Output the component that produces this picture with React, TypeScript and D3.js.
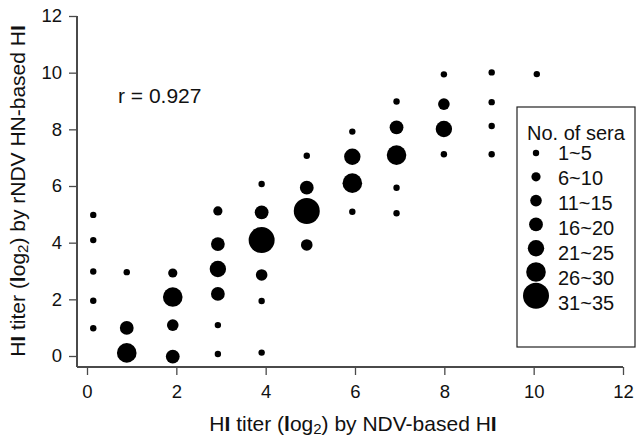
import React, { useEffect, useRef } from 'react';
import * as d3 from 'd3';

// HI titers (log2), one entry per plotted bubble
const ndvTiter = [
  0.14, 0.14, 0.14, 0.14, 0.14,
  0.89, 0.89, 0.89,
  1.92, 1.92, 1.92, 1.92,
  2.93, 2.93, 2.93, 2.93, 2.93, 2.93,
  3.91, 3.91, 3.91, 3.91, 3.91, 3.91,
  4.92, 4.92, 4.92, 4.92,
  5.94, 5.94, 5.94, 5.94,
  6.93, 6.93, 6.93, 6.93, 6.93,
  7.99, 7.99, 7.99, 7.99,
  9.06, 9.06, 9.06, 9.06,
  10.07,
];
const rndvTiter = [
  4.98, 4.09, 2.98, 1.95, 0.98,
  2.96, 0.99, 0.11,
  2.93, 2.08, 1.09, -0.02,
  5.12, 3.95, 3.07, 2.19, 1.09, 0.07,
  6.07, 5.07, 4.09, 2.86, 1.94, 0.12,
  7.07, 5.94, 5.12, 3.92,
  7.92, 7.03, 6.10, 5.09,
  8.98, 8.07, 7.09, 5.94, 5.04,
  9.94, 8.89, 8.01, 7.12,
  10.01, 8.96, 8.12, 7.12,
  9.95,
];
// index into seraLabels
const seraClass = [
  0, 0, 0, 0, 0,
  0, 3, 5,
  1, 5, 2, 3,
  1, 3, 4, 3, 0, 0,
  0, 3, 6, 2, 0, 0,
  0, 3, 6, 2,
  0, 4, 5, 0,
  0, 3, 5, 0, 0,
  0, 2, 4, 0,
  0, 0, 0, 0,
  0,
];
const seraLabels = ['1~5', '6~10', '11~15', '16~20', '21~25', '26~30', '31~35'];
const axisTicks = [0, 2, 4, 6, 8, 10, 12];
const rText = 'r = 0.927';

const FONT = '"Liberation Sans", Arial, Helvetica, sans-serif';

export default function App() {
  const svgRef = useRef<SVGSVGElement>(null);

  useEffect(() => {
    if (!svgRef.current) return;
    const width = 640;
    const height = 437;

    const svg = d3.select(svgRef.current);
    svg.selectAll('*').remove();
    svg.attr('width', width).attr('height', height).style('font-family', FONT);

    const x = d3.scaleLinear().domain([0, 12]).range([87, 623]);
    const y = d3.scaleLinear().domain([0, 12]).range([356, 16]);
    const radius = d3.scaleOrdinal<number, number>()
      .domain(d3.range(seraLabels.length))
      .range([3.2, 4.6, 5.8, 6.9, 8.2, 9.8, 13]);

    const axisX = y(0) + 11; // y position of the x axis line
    const axisY = x(0) - 10; // x position of the y axis line
    const axisColor = '#4a4a4a';

    // x axis
    const gx = svg.append('g').attr('transform', `translate(0,${axisX})`)
      .call(d3.axisBottom(x).tickValues(axisTicks).tickSize(8).tickPadding(10).tickSizeOuter(0));
    gx.select('.domain').remove();
    gx.selectAll('line').attr('stroke', axisColor).attr('stroke-width', 1.3);
    gx.selectAll('text').attr('font-size', 18.5).attr('fill', '#111').style('font-family', FONT);
    svg.append('line')
      .attr('x1', axisY).attr('x2', x(12))
      .attr('y1', axisX).attr('y2', axisX)
      .attr('stroke', axisColor).attr('stroke-width', 2);

    // y axis
    const gy = svg.append('g').attr('transform', `translate(${axisY},0)`)
      .call(d3.axisLeft(y).tickValues(axisTicks).tickSize(8).tickPadding(7).tickSizeOuter(0));
    gy.select('.domain').remove();
    gy.selectAll('line').attr('stroke', axisColor).attr('stroke-width', 1.3);
    gy.selectAll('text').attr('font-size', 18.5).attr('fill', '#111').style('font-family', FONT);
    svg.append('line')
      .attr('x1', axisY).attr('x2', axisY)
      .attr('y1', y(12)).attr('y2', axisX)
      .attr('stroke', axisColor).attr('stroke-width', 2);

    // bubbles
    svg.append('g')
      .selectAll('circle')
      .data(d3.range(ndvTiter.length))
      .enter()
      .append('circle')
      .attr('cx', i => x(ndvTiter[i]))
      .attr('cy', i => y(rndvTiter[i]))
      .attr('r', i => radius(seraClass[i]))
      .attr('fill', '#000');

    // correlation text
    svg.append('text')
      .attr('x', 118).attr('y', 103)
      .attr('font-size', 21)
      .attr('fill', '#111')
      .text(rText);

    // axis titles
    const title = (g: d3.Selection<SVGTextElement, unknown, null, undefined>, tail: string) => {
      g.append('tspan').text('H');
      g.append('tspan').attr('font-weight', 'bold').text('I');
      g.append('tspan').text(' titer (');
      g.append('tspan').attr('font-weight', 'bold').text('l');
      g.append('tspan').text('og');
      g.append('tspan').attr('font-size', 15).attr('dy', 2.5).text('2');
      g.append('tspan').attr('dy', -2.5).text(`) by ${tail}H`);
      g.append('tspan').attr('font-weight', 'bold').text('I');
    };

    const xt = svg.append('text')
      .attr('x', 353).attr('y', 431)
      .attr('text-anchor', 'middle')
      .attr('font-size', 21)
      .attr('fill', '#111');
    title(xt, 'NDV-based ');

    const yt = svg.append('text')
      .attr('transform', `translate(25,191) rotate(-90)`)
      .attr('text-anchor', 'middle')
      .attr('font-size', 21)
      .attr('fill', '#111');
    title(yt, 'rNDV HN-based ');

    // legend
    const lg = svg.append('g');
    lg.append('rect')
      .attr('x', 517).attr('y', 107)
      .attr('width', 118).attr('height', 240)
      .attr('fill', '#fff')
      .attr('stroke', '#222')
      .attr('stroke-width', 1.2);
    lg.append('text')
      .attr('x', 527).attr('y', 140)
      .attr('font-size', 20)
      .attr('fill', '#111')
      .text('No. of sera');
    const row = d3.scaleLinear().domain([0, 6]).range([160, 310]);
    const items = lg.selectAll('g.item')
      .data(seraLabels)
      .enter()
      .append('g')
      .attr('class', 'item');
    items.append('circle')
      .attr('cx', 536)
      .attr('cy', (_, i) => row(i) - 7 - i * 1.2)
      .attr('r', (_, i) => radius(i))
      .attr('fill', '#000');
    items.append('text')
      .attr('x', 558)
      .attr('y', (_, i) => row(i))
      .attr('font-size', 20)
      .attr('fill', '#111')
      .text(d => d);
  }, []);

  return <svg ref={svgRef} style={{ position: 'absolute', left: 0, top: 0 }}></svg>;
}
